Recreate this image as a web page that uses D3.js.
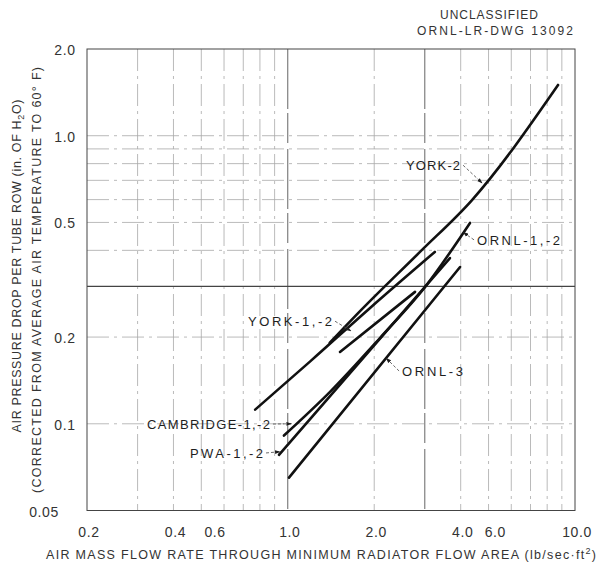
<!DOCTYPE html>
<html>
<head>
<meta charset="utf-8">
<script src="https://cdn.jsdelivr.net/npm/d3@7"></script>
<style>
  body { margin: 0; background: #fff; }
  svg { display: block; font-family: "Liberation Sans", Arial, sans-serif; }
</style>
</head>
<body>
<svg id="chart" width="598" height="564"></svg>
<script>
// curves: [flow (lb/sec.ft2), pressure drop (in. H2O)]
const yorkUpper = [[0.77, 0.112], [1.2, 0.165], [1.93, 0.252], [3.25, 0.395]];
const york2 = [[1.40, 0.191], [1.785, 0.246], [2.886, 0.395], [4.38, 0.598], [8.73, 1.50]];
const yorkLower = [[1.52, 0.1775], [2.774, 0.287]];
const cambridge = [[0.97, 0.091], [1.403, 0.129], [2.094, 0.1985], [3.006, 0.2985], [4.31, 0.498]];
const pwa = [[0.932, 0.078], [3.67, 0.376]];
const ornl3 = [[1.01, 0.065], [3.98, 0.35]];

const xTicks = [0.2, 0.4, 0.6, 1.0, 2.0, 4.0, 6.0, 10.0];
const xTickLabels = ["0.2", "0.4", "0.6", "1.0", "2.0", "4.0", "6.0", "10.0"];
const yTicks = [0.05, 0.1, 0.2, 0.5, 1.0, 2.0];
const yTickLabels = ["0.05", "0.1", "0.2", "0.5", "1.0", "2.0"];
const xGrid = [0.3, 0.4, 0.5, 0.6, 0.7, 0.8, 0.9, 1, 2, 3, 4, 5, 6, 7, 8, 9];
const yGrid = [0.1, 0.2, 0.3, 0.4, 0.5, 0.6, 0.7, 0.8, 0.9, 1.0];

// curve labels: text position and leader tip in data units
const notes = [
  { text: "YORK-2", at: [3.98, 0.79], anchor: "end", tip: [4.75, 0.685], w: 54 },
  { text: "ORNL-1,-2", at: [4.56, 0.435], anchor: "start", tip: [4.08, 0.462], w: 83 },
  { text: "YORK-1,-2", at: [1.426, 0.227], anchor: "end", tip: [1.66, 0.21], w: 84 },
  { text: "ORNL-3", at: [2.5, 0.1525], anchor: "start", tip: [2.2, 0.169], w: 61 },
  { text: "CAMBRIDGE-1,-2", at: [0.867, 0.0998], anchor: "end", tip: [1.03, 0.1], w: 123 },
  { text: "PWA-1,-2", at: [0.82, 0.0792], anchor: "end", tip: [0.94, 0.08], w: 73 }
];

const svg = d3.select("#chart");
const x = d3.scaleLog().domain([0.2, 10]).range([87, 575]);
const y = d3.scaleLog().domain([0.05, 2]).range([510.5, 49]);
const ink = "#1e1e1e";

// arrowhead for leaders
svg.append("defs").append("marker")
  .attr("id", "arrow")
  .attr("viewBox", "0 0 10 10")
  .attr("refX", 9).attr("refY", 5)
  .attr("markerWidth", 7).attr("markerHeight", 7)
  .attr("orient", "auto")
  .append("path")
  .attr("d", "M0,1.5 L10,5 L0,8.5 Z")
  .attr("fill", ink);

// grid (worn log paper)
const heavyX = [1, 3];
const heavyY = [0.3];
svg.append("g")
  .selectAll("line")
  .data(xGrid)
  .join("line")
  .attr("x1", d => x(d)).attr("x2", d => x(d))
  .attr("y1", y(2)).attr("y2", y(0.05))
  .attr("stroke", d => heavyX.includes(d) ? "#666" : "#a8a8a8")
  .attr("stroke-width", d => heavyX.includes(d) ? 1 : 0.8)
  .attr("stroke-dasharray", d => heavyX.includes(d) ? "60,4,30,6" : "22,5,3,5");

svg.append("g")
  .selectAll("line")
  .data(yGrid)
  .join("line")
  .attr("x1", x(0.2)).attr("x2", x(10))
  .attr("y1", d => y(d)).attr("y2", d => y(d))
  .attr("stroke", d => heavyY.includes(d) ? "#444" : "#a8a8a8")
  .attr("stroke-width", d => heavyY.includes(d) ? 1.1 : 0.8)
  .attr("stroke-dasharray", d => heavyY.includes(d) ? null : "22,5,3,5");

// frame
svg.append("rect")
  .attr("x", x(0.2)).attr("y", y(2))
  .attr("width", x(10) - x(0.2))
  .attr("height", y(0.05) - y(2))
  .attr("fill", "none")
  .attr("stroke", "#444")
  .attr("stroke-width", 1);

// tick labels
const xNudge = { "0.6": -11, "6.0": -18 };
svg.append("g")
  .selectAll("text")
  .data(xTicks)
  .join("text")
  .attr("x", (d, i) => x(d) + 2 + (xNudge[xTickLabels[i]] || 0))
  .attr("y", 537)
  .attr("text-anchor", "middle")
  .attr("font-size", 14)
  .attr("letter-spacing", 0.6)
  .attr("fill", "#333")
  .text((d, i) => xTickLabels[i]);

svg.append("g")
  .selectAll("text")
  .data(yTicks)
  .join("text")
  .attr("x", d => d === 0.05 ? 44 : 65)
  .attr("y", d => y(d) + 6)
  .attr("text-anchor", "middle")
  .attr("font-size", 14)
  .attr("letter-spacing", 0.6)
  .attr("fill", "#333")
  .text((d, i) => yTickLabels[i]);

// curves
const line = d3.line()
  .curve(d3.curveMonotoneX)
  .x(d => x(d[0]))
  .y(d => y(d[1]));
const curves = [yorkUpper, york2, yorkLower, cambridge, pwa, ornl3];
svg.append("g")
  .selectAll("path")
  .data(curves)
  .join("path")
  .attr("d", line)
  .attr("fill", "none")
  .attr("stroke", "#111")
  .attr("stroke-width", 2.6)
  .attr("stroke-linecap", "round")
  .attr("stroke-linejoin", "round");

// curve labels with leaders
const noteG = svg.append("g");
notes.forEach(n => {
  const tx = x(n.at[0]), ty = y(n.at[1]);
  noteG.append("text")
    .attr("x", tx).attr("y", ty)
    .attr("dy", "0.36em")
    .attr("text-anchor", n.anchor)
    .attr("font-size", 13)
    .attr("textLength", n.w)
    .attr("lengthAdjust", "spacing")
    .attr("fill", ink)
    .text(n.text);
  const sx = n.anchor === "end" ? tx + 3 : tx - 3;
  noteG.append("line")
    .attr("x1", sx).attr("y1", ty)
    .attr("x2", x(n.tip[0])).attr("y2", y(n.tip[1]))
    .attr("stroke", "#444")
    .attr("stroke-width", 0.8)
    .attr("stroke-dasharray", "3,2")
    .attr("marker-end", "url(#arrow)");
});

// drawing stamp
svg.append("text")
  .attr("x", 489).attr("y", 19)
  .attr("text-anchor", "middle")
  .attr("font-size", 12)
  .attr("textLength", 98)
  .attr("fill", "#333")
  .text("UNCLASSIFIED");
svg.append("text")
  .attr("x", 495).attr("y", 35)
  .attr("text-anchor", "middle")
  .attr("font-size", 12)
  .attr("textLength", 156)
  .attr("fill", "#333")
  .text("ORNL-LR-DWG 13092");

// axis titles
const xTitle = svg.append("text")
  .attr("x", 46).attr("y", 559)
  .attr("font-size", 12.5)
  .attr("textLength", 550)
  .attr("lengthAdjust", "spacing")
  .attr("fill", "#333");
xTitle.append("tspan").text("AIR MASS FLOW RATE THROUGH MINIMUM RADIATOR FLOW AREA (lb/sec\u00b7ft");
xTitle.append("tspan").attr("dy", -5).attr("font-size", 9).text("2");
xTitle.append("tspan").attr("dy", 5).text(")");

const yTitle1 = svg.append("text")
  .attr("transform", "translate(21,266) rotate(-90)")
  .attr("text-anchor", "middle")
  .attr("font-size", 12.5)
  .attr("textLength", 333)
  .attr("lengthAdjust", "spacing")
  .attr("fill", "#333");
yTitle1.append("tspan").text("AIR PRESSURE DROP PER TUBE ROW (in. OF H");
yTitle1.append("tspan").attr("dy", 3).attr("font-size", 9).text("2");
yTitle1.append("tspan").attr("dy", -3).text("O)");

svg.append("text")
  .attr("transform", "translate(41,280) rotate(-90)")
  .attr("text-anchor", "middle")
  .attr("font-size", 12.5)
  .attr("textLength", 426)
  .attr("lengthAdjust", "spacing")
  .attr("fill", "#333")
  .text("(CORRECTED FROM AVERAGE AIR TEMPERATURE TO 60\u00b0 F)");
</script>
</body>
</html>
